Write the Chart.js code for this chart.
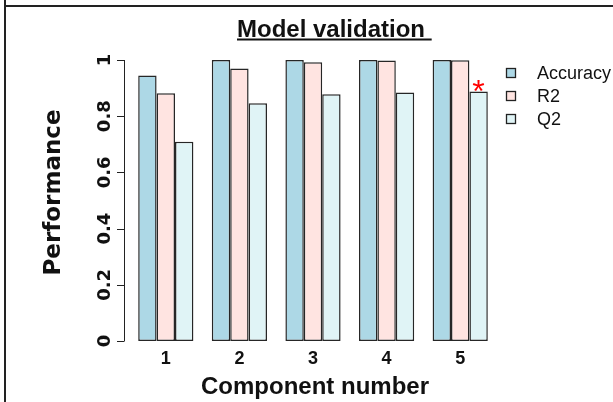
<!DOCTYPE html>
<html>
<head>
<meta charset="utf-8">
<script src="https://cdn.jsdelivr.net/npm/chart.js@4"></script>
<style>
  html, body { margin: 0; padding: 0; background: #fff; }
  canvas { display: block; }
</style>
</head>
<body>
<canvas id="validationChart" width="613" height="402"></canvas>
<script>
// Model validation - performance per component number

const components = ['1', '2', '3', '4', '5'];
const accuracy = [0.945, 1.0, 1.0, 1.0, 1.0];
const r2 = [0.882, 0.970, 0.992, 0.998, 0.999];
const q2 = [0.709, 0.846, 0.878, 0.884, 0.888];
const yTicks = [0, 0.2, 0.4, 0.6, 0.8, 1];
const yTickLabels = ['0', '0.2', '0.4', '0.6', '0.8', '1'];
const bestComponent = 4; // index of the starred Q2 bar

const FONT = "'Liberation Sans', Arial, Helvetica, sans-serif";
const ROT_FONT = "'DejaVu Sans', sans-serif"; // rotated text renders wider in the original

// frame, titles, y axis, legend and star are drawn here
const decorPlugin = {
    id: 'decor',
    beforeDraw(chart) {
        const ctx = chart.ctx;
        ctx.save();
        ctx.strokeStyle = '#222';
        ctx.lineWidth = 2;
        ctx.beginPath();
        ctx.moveTo(5, 0);
        ctx.lineTo(5, 402);
        ctx.moveTo(5, 6);
        ctx.lineTo(613, 6);
        ctx.stroke();
        ctx.restore();
    },
    afterDraw(chart) {
        const ctx = chart.ctx;
        const y = chart.scales.y;
        const area = chart.chartArea;
        ctx.save();

        // title with underline
        const title = 'Model validation ';
        ctx.font = 'bold 24px ' + FONT;
        ctx.fillStyle = '#111';
        ctx.textAlign = 'left';
        ctx.textBaseline = 'alphabetic';
        const tx = 237;
        ctx.fillText(title, tx, 37);
        const tw = ctx.measureText(title).width;
        ctx.fillRect(tx, 38.5, tw, 2);

        // x axis title
        ctx.textAlign = 'center';
        ctx.fillText('Component number', (area.left + area.right) / 2 + 2, 393.5);

        // y axis, R style
        const axisX = 124;
        ctx.strokeStyle = '#222';
        ctx.lineWidth = 1;
        ctx.beginPath();
        ctx.moveTo(axisX + 0.5, y.getPixelForValue(yTicks[0]));
        ctx.lineTo(axisX + 0.5, y.getPixelForValue(yTicks[yTicks.length - 1]));
        yTicks.forEach(v => {
            const py = Math.round(y.getPixelForValue(v)) + 0.5;
            ctx.moveTo(axisX + 0.5, py);
            ctx.lineTo(axisX - 7, py);
        });
        ctx.stroke();

        ctx.font = 'bold 18px ' + ROT_FONT;
        yTicks.forEach((v, i) => {
            ctx.save();
            ctx.translate(110, y.getPixelForValue(v));
            ctx.rotate(-Math.PI / 2);
            ctx.fillText(yTickLabels[i], 0, 0);
            ctx.restore();
        });

        ctx.save();
        ctx.font = 'bold 23px ' + ROT_FONT;
        ctx.translate(60, (y.getPixelForValue(0) + y.getPixelForValue(1)) / 2 - 8);
        ctx.rotate(-Math.PI / 2);
        ctx.fillText('Performance', 0, 0);
        ctx.restore();

        // legend
        ctx.font = '18px ' + FONT;
        ctx.textAlign = 'left';
        ctx.textBaseline = 'middle';
        chart.data.datasets.forEach((ds, i) => {
            const ly = 73 + i * 23;
            ctx.fillStyle = ds.backgroundColor;
            ctx.fillRect(506, ly - 5, 10, 10);
            ctx.strokeStyle = '#222';
            ctx.lineWidth = 1.3;
            ctx.strokeRect(506.5, ly - 4.5, 9, 9);
            ctx.fillStyle = '#111';
            ctx.fillText(ds.label, 537, ly + 1);
        });

        // star over the selected model
        const bar = chart.getDatasetMeta(2).data[bestComponent];
        ctx.fillStyle = '#ff0000';
        ctx.font = '32px ' + FONT;
        ctx.textAlign = 'center';
        ctx.textBaseline = 'alphabetic';
        ctx.fillText('*', bar.x, bar.y + 11);

        ctx.restore();
    }
};

const barStyle = {
    borderColor: '#262626',
    borderWidth: 1.5,
    borderSkipped: false,
    barPercentage: 1.0,
    categoryPercentage: 0.75
};

const config = {
    type: 'bar',
    data: {
        labels: components,
        datasets: [
            Object.assign({ label: 'Accuracy', data: accuracy, backgroundColor: '#add8e6' }, barStyle),
            Object.assign({ label: 'R2', data: r2, backgroundColor: '#ffe4e1' }, barStyle),
            Object.assign({ label: 'Q2', data: q2, backgroundColor: '#e0f4f6' }, barStyle)
        ]
    },
    options: {
        responsive: false,
        animation: false,
        layout: {
            padding: { left: 129, right: 116, top: 60, bottom: 25 }
        },
        plugins: {
            legend: { display: false },
            title: { display: false },
            tooltip: { enabled: false }
        },
        scales: {
            x: {
                grid: { display: false, drawTicks: false, tickLength: 0 },
                border: { display: false },
                ticks: {
                    color: '#111',
                    padding: 9,
                    font: { family: FONT, size: 18, weight: 'bold', lineHeight: 1 }
                },
                title: { display: false }
            },
            y: {
                display: false,
                min: 0,
                max: 1
            }
        }
    },
    plugins: [decorPlugin]
};

new Chart(document.getElementById('validationChart'), config);
</script>
</body>
</html>
